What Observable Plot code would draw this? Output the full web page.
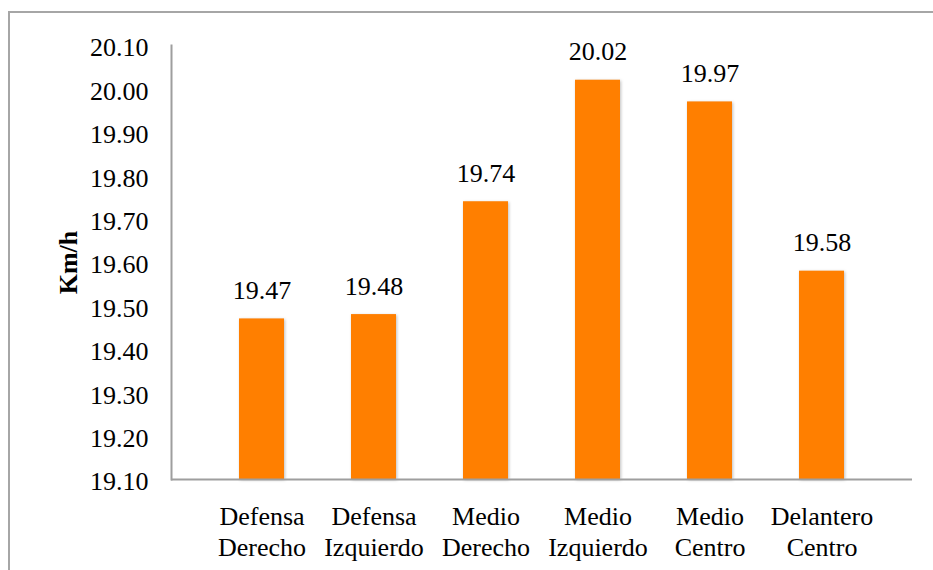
<!DOCTYPE html>
<html>
<head>
<meta charset="utf-8">
<script src="https://cdn.jsdelivr.net/npm/d3@7"></script>
<script src="https://cdn.jsdelivr.net/npm/@observablehq/plot@0.6"></script>
<style>
  html, body { margin: 0; padding: 0; background: #fff; font-family: 'Liberation Serif', serif; }
  #wrap { position: relative; width: 933px; height: 570px; overflow: hidden; }
  #border { position: absolute; left: 8px; top: 11px; width: 940px; height: 600px;
            border-left: 2px solid #a6a6a6; border-top: 2px solid #a6a6a6; }
  #chart { position: absolute; left: 0; top: 0; font-family: 'Liberation Serif', serif; }
  #chart svg text, #chart svg tspan { font-family: 'Liberation Serif', serif !important; }
  #chart g[aria-label="bar"] rect { filter: drop-shadow(1.5px 1px 1.5px rgba(0,0,0,0.25)); }
</style>
</head>
<body>
<div id="wrap"><div id="border"></div><div id="chart"></div></div>
<script>
const categories = ["Defensa\nDerecho", "Defensa\nIzquierdo", "Medio\nDerecho", "Medio\nIzquierdo", "Medio\nCentro", "Delantero\nCentro"];
const values = [19.47, 19.48, 19.74, 20.02, 19.97, 19.58];
const yTicks = [19.1, 19.2, 19.3, 19.4, 19.5, 19.6, 19.7, 19.8, 19.9, 20.0, 20.1];
const yLabel = "Km/h";

const data = categories.map((c, i) => ({cat: c, v: values[i]}));
const FONT = "'Liberation Serif', serif";

const chart = Plot.plot({
  width: 933,
  height: 570,
  marginLeft: 171,
  marginRight: 21,
  marginTop: 45,
  marginBottom: 91,
  style: "font-family: 'Liberation Serif', serif; font-size: 26px; color: #000; background: transparent;",
  x: {domain: categories, padding: 0.6, label: null},
  y: {domain: [19.1, 20.1], label: null},
  marks: [
    Plot.barY(data, {x: "cat", y1: 19.1, y2: "v", fill: "#ff7f00"}),
    Plot.text(data, {x: "cat", y: "v", text: d => d.v.toFixed(2), lineAnchor: "bottom", dy: -20, fontSize: 26, fontFamily: FONT, fill: "#000"}),
    Plot.axisY({ticks: yTicks, tickSize: 0, tickPadding: 23, dy: 2.5, tickFormat: d => d.toFixed(2), label: null, fontSize: 26, fontFamily: FONT}),
    Plot.axisX({tickSize: 0, tickPadding: 23, label: null, fontSize: 26, fontFamily: FONT, lineHeight: 1.2}),
    Plot.ruleY([19.1], {stroke: "#9e9e9e", strokeWidth: 2}),
    Plot.frame({anchor: "left", stroke: "#9e9e9e", strokeWidth: 2}),
    Plot.text([yLabel], {frameAnchor: "left", textAnchor: "middle", rotate: -90, dx: -103, text: d => d, fontWeight: "bold", fontSize: 26, fontFamily: FONT, fill: "#000"})
  ]
});
d3.select(chart).selectAll("text, tspan").style("font-family", FONT);
document.getElementById("chart").appendChild(chart);
</script>
</body>
</html>
